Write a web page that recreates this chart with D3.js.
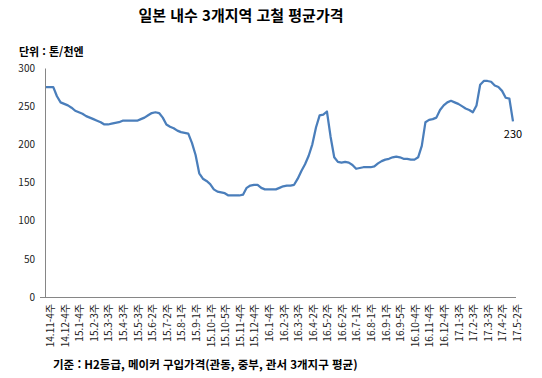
<!DOCTYPE html>
<html lang="ko">
<head>
  <meta charset="UTF-8" />
  <script src="https://d3js.org/d3.v7.min.js"></script>
  <title>일본 내수 3개지역 고철 평균가격</title>
  <style>
    body { margin: 0; background: #fff; }
    text { font-family: "Noto Sans CJK KR", "Noto Sans", sans-serif; }
    .axis text { font-size: 10px; fill: #222; }
  </style>
</head>
<body>
  <script>
    // 주간 평균가격 (톤/천엔), 14.11-4주 ~ 17.5-2주
    var values = [
      275, 275, 275, 263, 255, 253, 251, 248, 244, 242,
      240, 237, 235, 233, 231, 229, 226, 226, 227, 228,
      229, 231, 231, 231, 231, 231, 233, 235, 238, 241,
      242, 241, 235, 226, 223, 221, 218, 216, 215, 214,
      202, 186, 162, 155, 152, 148, 141, 138, 137, 136,
      133, 133, 133, 133, 134, 143, 146, 147, 147, 143,
      141, 141, 141, 141, 143, 145, 146, 146, 147, 155,
      165, 174, 185, 200, 222, 238, 239, 243, 210, 183,
      177, 176, 177, 176, 173, 168, 169, 170, 170, 170,
      171, 175, 178, 180, 181, 183, 184, 183, 181, 181,
      180, 180, 183, 198, 229, 232, 233, 235, 245, 251,
      255, 257, 255, 253, 250, 247, 245, 242, 251, 278,
      283, 283, 282, 277, 275, 270, 261, 260, 230
    ];

    // x축 라벨 (4주 간격)
    var tickLabels = [
      "14.11-4주", "14.12-4주", "15.1-4주", "15.2-3주", "15.3-3주", "15.4-3주",
      "15.5-3주", "15.6-2주", "15.7-2주", "15.8-1주", "15.9-1주", "15.10-1주",
      "15.10-5주", "15.11-4주", "15.12-4주", "16.1-4주", "16.2-3주", "16.3-3주",
      "16.4-2주", "16.5-2주", "16.6-2주", "16.7-1주", "16.8-1주", "16.9-1주",
      "16.9-5주", "16.10-4주", "16.11-4주", "16.12-4주", "17.1-3주", "17.2-3주",
      "17.3-3주", "17.4-2주", "17.5-2주"
    ];

    var yTicks = [0, 50, 100, 150, 200, 250, 300];

    var width = 542, height = 378;
    var plotL = 46, plotR = 513, plotT = 68, plotB = 297;

    var svg = d3.select("body").append("svg")
      .attr("width", width)
      .attr("height", height);

    var x = d3.scalePoint()
      .domain(d3.range(values.length))
      .range([plotL, plotR]);

    var y = d3.scaleLinear()
      .domain([0, 300])
      .range([plotB, plotT]);

    // title
    svg.append("text")
      .attr("x", 241).attr("y", 21)
      .attr("text-anchor", "middle")
      .style("font-size", "15px").style("font-weight", "bold")
      .text("일본 내수 3개지역 고철 평균가격");

    svg.append("text")
      .attr("x", 19).attr("y", 56)
      .style("font-size", "11px").style("font-weight", "bold")
      .text("단위 : 톤/천엔");

    svg.append("text")
      .attr("x", 53).attr("y", 369)
      .style("font-size", "11.5px").style("font-weight", "bold")
      .text("기준 : H2등급, 메이커 구입가격(관동, 중부, 관서 3개지구 평균)");

    // y axis
    var yAxis = d3.axisLeft(y).tickValues(yTicks).tickSize(0).tickPadding(10);
    var gy = svg.append("g").attr("class", "axis")
      .attr("transform", "translate(45,0)")
      .call(yAxis);
    gy.select(".domain").attr("stroke", "#868686");

    // x axis
    var xAxis = d3.axisBottom(x)
      .tickValues(d3.range(0, values.length, 4))
      .tickSize(0)
      .tickFormat(function (d) { return tickLabels[d / 4]; });
    var gx = svg.append("g").attr("class", "axis")
      .attr("transform", "translate(0," + plotB + ")")
      .call(xAxis);
    gx.select(".domain").attr("d", "M40,0.5H516").attr("stroke", "#868686");
    gx.selectAll(".tick text")
      .attr("transform", "translate(4,7) rotate(-90)")
      .attr("text-anchor", "end")
      .attr("x", 0).attr("y", 0)
      .attr("dy", "0.35em");

    // line
    var line = d3.line()
      .x(function (d, i) { return x(i); })
      .y(function (d) { return y(d); });

    svg.append("path")
      .datum(values)
      .attr("fill", "none")
      .attr("stroke", "#4a7ebb")
      .attr("stroke-width", 2.25)
      .attr("stroke-linejoin", "round")
      .attr("d", line);

    // last value label
    var last = values.length - 1;
    svg.append("text")
      .attr("x", x(last)).attr("y", y(values[last]) + 17)
      .attr("text-anchor", "middle")
      .style("font-size", "11px")
      .text(values[last]);
  </script>
</body>
</html>
